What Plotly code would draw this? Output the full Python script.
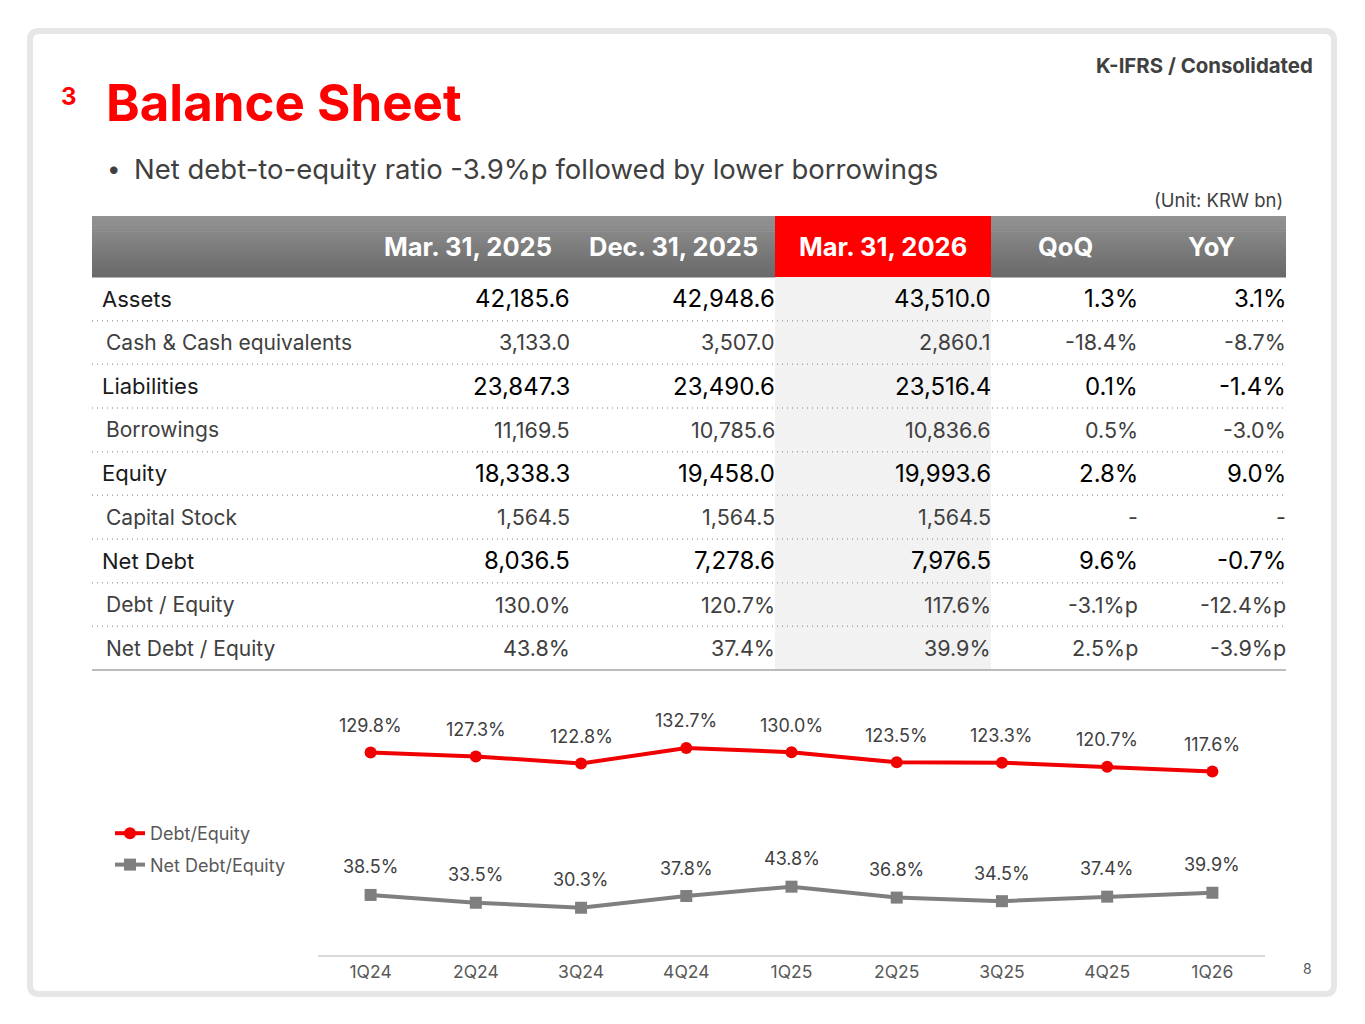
import plotly.graph_objects as go

# page is drawn with the browser's 8px body margin, so work in reference pixels
OFF = 8
W, H = 1365 - OFF, 1024 - OFF

# ---- table data ----
col_headers = ["Mar. 31, 2025", "Dec. 31, 2025", "Mar. 31, 2026", "QoQ", "YoY"]
row_labels = ["Assets", "Cash & Cash equivalents", "Liabilities", "Borrowings",
              "Equity", "Capital Stock", "Net Debt", "Debt / Equity", "Net Debt / Equity"]
row_bold = [True, False, True, False, True, False, True, False, False]
mar25 = ["42,185.6", "3,133.0", "23,847.3", "11,169.5", "18,338.3", "1,564.5", "8,036.5", "130.0%", "43.8%"]
dec25 = ["42,948.6", "3,507.0", "23,490.6", "10,785.6", "19,458.0", "1,564.5", "7,278.6", "120.7%", "37.4%"]
mar26 = ["43,510.0", "2,860.1", "23,516.4", "10,836.6", "19,993.6", "1,564.5", "7,976.5", "117.6%", "39.9%"]
qoq = ["1.3%", "-18.4%", "0.1%", "0.5%", "2.8%", "-", "9.6%", "-3.1%p", "2.5%p"]
yoy = ["3.1%", "-8.7%", "-1.4%", "-3.0%", "9.0%", "-", "-0.7%", "-12.4%p", "-3.9%p"]

# ---- chart data ----
quarters = ["1Q24", "2Q24", "3Q24", "4Q24", "1Q25", "2Q25", "3Q25", "4Q25", "1Q26"]
debt_equity = [129.8, 127.3, 122.8, 132.7, 130.0, 123.5, 123.3, 120.7, 117.6]
net_debt_equity = [38.5, 33.5, 30.3, 37.8, 43.8, 36.8, 34.5, 37.4, 39.9]

FONT = "Inter"
RED = "#ff0000"
DARK = "#1a1a1a"
GREY_TXT = "#404040"


def px(x):
    return (x - OFF) / W


def py(y):
    return 1 - (y - OFF) / H


shapes = []
annotations = []


def rect(x0, y0, x1, y1, fill):
    shapes.append(dict(type="rect", xref="paper", yref="paper",
                       x0=px(x0), x1=px(x1), y0=py(y1), y1=py(y0),
                       fillcolor=fill, line=dict(width=0), layer="below"))


def hline(y, color, dash=None):
    shapes.append(dict(type="line", xref="paper", yref="paper",
                       x0=px(92), x1=px(1286), y0=py(y), y1=py(y),
                       line=dict(color=color, width=1.5, dash=dash)))


def text(x, y, s, size, color, anchor="left", bold=False):
    # annotations carry ~3px padding; nudge so the ink edge lands on x
    if anchor == "left":
        x -= 3
    elif anchor == "right":
        x += 3
    annotations.append(dict(xref="paper", yref="paper", x=px(x), y=py(y),
                            text=f"<b>{s}</b>" if bold else s, showarrow=False,
                            xanchor=anchor, yanchor="middle",
                            font=dict(family=FONT, size=size, color=color)))


# slide frame
x0, y0, x1, y1, r = 30, 31, 1334, 994, 9
frame_path = (f"M {px(x0 + r)},{py(y0)} L {px(x1 - r)},{py(y0)} "
              f"Q {px(x1)},{py(y0)} {px(x1)},{py(y0 + r)} L {px(x1)},{py(y1 - r)} "
              f"Q {px(x1)},{py(y1)} {px(x1 - r)},{py(y1)} L {px(x0 + r)},{py(y1)} "
              f"Q {px(x0)},{py(y1)} {px(x0)},{py(y1 - r)} L {px(x0)},{py(y0 + r)} "
              f"Q {px(x0)},{py(y0)} {px(x0 + r)},{py(y0)} Z")
shapes.append(dict(type="path", xref="paper", yref="paper", path=frame_path,
                   line=dict(color="#e6e6e6", width=6), layer="below"))

# titles
text(62, 97, "3", 24, RED, bold=True)
text(107, 102, "Balance Sheet", 51, RED, bold=True)
text(108, 169, "•", 24, GREY_TXT)
text(135, 169, "Net debt-to-equity ratio -3.9%p followed by lower borrowings", 27.5, GREY_TXT)
text(1312, 65, "K-IFRS / Consolidated", 20.4, GREY_TXT, anchor="right", bold=True)
text(1282, 200, "(Unit: KRW bn)", 18.5, GREY_TXT, anchor="right")
text(1311, 968, "8", 14, "#595959", anchor="right")

# table header (vertical gradient in strips)
top, bot = 216, 277
n = 20
for i in range(n):
    t = i / (n - 1)
    c = int(0x92 - t * (0x92 - 0x6a))
    rect(92, top + (bot - top) * i / n, 1286, top + (bot - top) * (i + 1) / n + 0.6,
         f"rgb({c},{c},{c})")
rect(775, top, 991, bot, RED)
rect(775, bot, 991, 670, "#f2f2f2")

header_cx = [468, 673, 883, 1065, 1212]
for cx, h in zip(header_cx, col_headers):
    text(cx, 246, h, 25.5, "white", anchor="center", bold=True)

row_h = (670 - 277) / len(row_labels)
col_right = [569, 774, 990, 1137, 1285]
for i, lab in enumerate(row_labels):
    cy = 277 + row_h * (i + 0.5)
    b = row_bold[i]
    text(103 if b else 107, cy, lab, 22 if b else 21, DARK if b else GREY_TXT)
    for xr, col in zip(col_right, [mar25, dec25, mar26, qoq, yoy]):
        text(xr, cy, col[i], 24 if b else 21.5, "#000000" if b else GREY_TXT,
             anchor="right")
    ysep = 277 + row_h * (i + 1)
    if i < len(row_labels) - 1:
        hline(ysep, "#a8a8a8", dash="1px,4px")
    else:
        hline(ysep, "#a6a6a6")

# ---- line chart ----
fig = go.Figure()
fig.add_trace(go.Scatter(x=quarters, y=debt_equity, name="Debt/Equity",
                         mode="lines+markers", legendgroup="de",
                         line=dict(color="#f00000", width=4),
                         marker=dict(symbol="circle", size=12, color="#f00000")))
fig.add_trace(go.Scatter(x=quarters, y=net_debt_equity, name="Net Debt/Equity",
                         mode="lines+markers", legendgroup="nde",
                         line=dict(color="#7f7f7f", width=4),
                         marker=dict(symbol="square", size=12, color="#7f7f7f")))

for q, v in zip(quarters, debt_equity):
    annotations.append(dict(x=q, y=v, xref="x", yref="y", text=f"{v:.1f}%",
                            showarrow=False, yshift=27,
                            font=dict(family=FONT, size=18, color=GREY_TXT)))
for q, v in zip(quarters, net_debt_equity):
    annotations.append(dict(x=q, y=v, xref="x", yref="y", text=f"{v:.1f}%",
                            showarrow=False, yshift=28,
                            font=dict(family=FONT, size=18, color=GREY_TXT)))

fig.update_layout(
    width=W, height=H,
    margin=dict(l=0, r=0, t=0, b=0),
    paper_bgcolor="white", plot_bgcolor="rgba(0,0,0,0)",
    font=dict(family=FONT),
    shapes=shapes, annotations=annotations,
    xaxis=dict(domain=[px(318), px(1265)], range=[-0.5, 8.5],
               showgrid=False, zeroline=False, showline=True,
               linecolor="#d9d9d9", linewidth=1.5, ticks="",
               tickfont=dict(family=FONT, size=17.5, color="#595959")),
    yaxis=dict(domain=[py(955), py(721)], range=[0, 150], visible=False,
               showgrid=False, zeroline=False),
    legend=dict(x=px(110), y=py(815), xanchor="left", yanchor="top",
                font=dict(family=FONT, size=18, color="#595959"),
                bgcolor="rgba(0,0,0,0)", itemwidth=30, tracegroupgap=5),
    showlegend=True,
)

fig.write_html("out.html")
